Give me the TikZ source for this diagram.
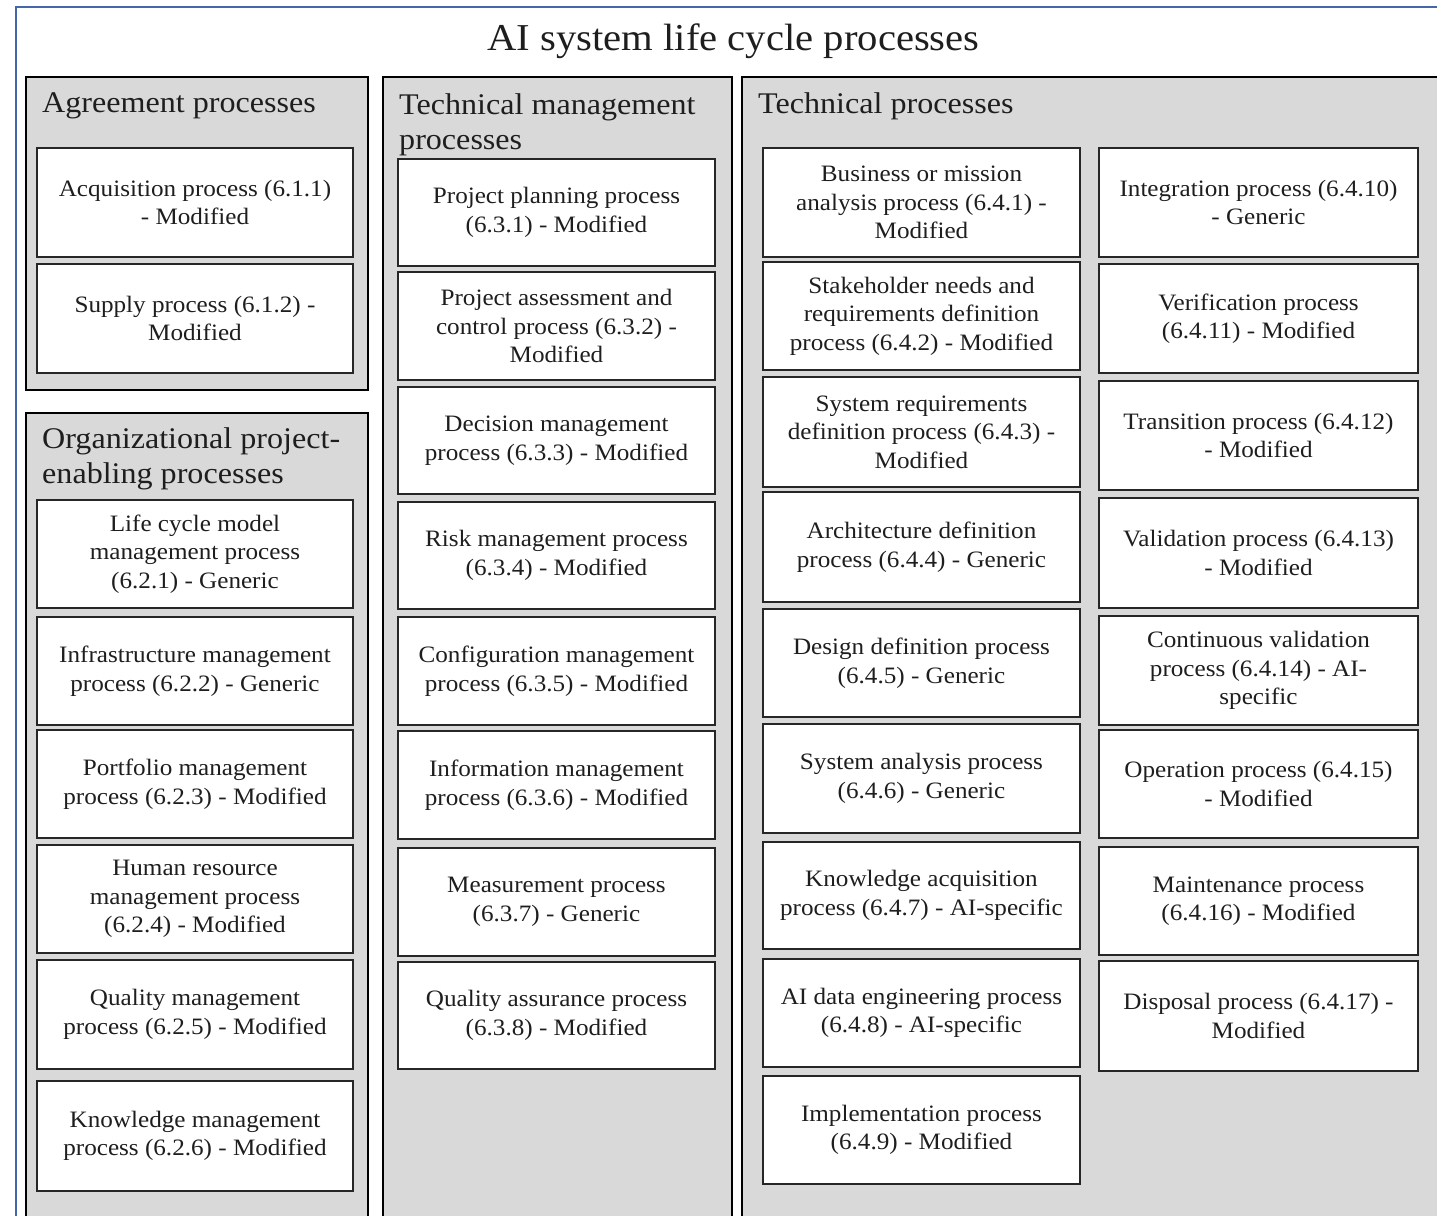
\documentclass[tikz,border=0pt]{standalone}
\usepackage{fontspec}
\setmainfont[FakeStretch=1.07]{Liberation Serif}
\definecolor{panelgray}{HTML}{D9D9D9}
\definecolor{frameblue}{HTML}{4467AC}
\definecolor{inkc}{HTML}{1E1E1E}
\begin{document}
\begin{tikzpicture}[x=1pt,y=-1pt,
  panel/.style={draw=black, line width=2pt, fill=panelgray, anchor=north west, inner sep=0pt},
  pbox/.style={draw=black!85, line width=2pt, fill=white, align=center, inner sep=0pt,
    font=\fontsize{23.5}{28.5}\selectfont, text=inkc},
  colA/.style={pbox, minimum width=316pt},
  colB/.style={pbox, minimum width=317pt},
  colC/.style={pbox, minimum width=317pt},
  colD/.style={pbox, minimum width=319pt},
  bh/.style={minimum height=#1pt},
  hdr/.style={anchor=base west, inner sep=0pt, align=left,
    font=\fontsize{30}{35}\selectfont, text=inkc},
]
\clip (0,0) rectangle (1437,1215);
\fill[white] (0,0) rectangle (1437,1215);
% outer frame
\draw[frameblue, line width=2.8pt] (16,1240) -- (16,7) -- (1460,7);
\node[anchor=base, inner sep=0pt, font=\fontsize{38}{44}\selectfont, text=inkc] (title) at (733.5,51) {AI system life cycle processes};

% panels
\node[panel, minimum width=342pt, minimum height=313pt] (agree) at (25,76) {};
\node[panel, minimum width=342pt, minimum height=828pt] (org) at (25,412) {};
\node[panel, minimum width=349pt, minimum height=1164pt] (tm) at (382,76) {};
\node[panel, minimum width=720pt, minimum height=1164pt] (tech) at (741,76) {};

% headers (base = baseline of last line)
\node[hdr] (agreeH) at (42,112) {Agreement processes};
\node[hdr] (orgH) at (42,483) {Organizational project-\\enabling processes};
\node[hdr] (tmH) at (399,149) {Technical management\\processes};
\node[hdr] (techH) at (758,113) {Technical processes};

% Agreement
\node[colA, bh=109] (acq) at (195,202.5) {Acquisition process (6.1.1)\\- Modified};
\node[colA, bh=109] (sup) at (195,318.5) {Supply process (6.1.2) -\\Modified};
% Organizational
\node[colA, bh=108] (lcm) at (195,554) {Life cycle model\\management process\\(6.2.1) - Generic};
\node[colA, bh=108] (inf) at (195,671) {Infrastructure management\\process (6.2.2) - Generic};
\node[colA, bh=108] (pfm) at (195,784) {Portfolio management\\process (6.2.3) - Modified};
\node[colA, bh=108] (hrm) at (195,899) {Human resource\\management process\\(6.2.4) - Modified};
\node[colA, bh=109] (qm) at (195,1014.5) {Quality management\\process (6.2.5) - Modified};
\node[colA, bh=110] (km) at (195,1136) {Knowledge management\\process (6.2.6) - Modified};
% Technical management
\node[colB, bh=107] (ppl) at (556.5,212.5) {Project planning process\\(6.3.1) - Modified};
\node[colB, bh=108] (pac) at (556.5,326) {Project assessment and\\control process (6.3.2) -\\Modified};
\node[colB, bh=107] (dm) at (556.5,440.5) {Decision management\\process (6.3.3) - Modified};
\node[colB, bh=107] (rm) at (556.5,555.5) {Risk management process\\(6.3.4) - Modified};
\node[colB, bh=108] (cm) at (556.5,671) {Configuration management\\process (6.3.5) - Modified};
\node[colB, bh=108] (im) at (556.5,785) {Information management\\process (6.3.6) - Modified};
\node[colB, bh=108] (mp) at (556.5,902) {Measurement process\\(6.3.7) - Generic};
\node[colB, bh=107] (qa) at (556.5,1015.5) {Quality assurance process\\(6.3.8) - Modified};
% Technical left
\node[colC, bh=109] (bma) at (921.5,202.5) {Business or mission\\analysis process (6.4.1) -\\Modified};
\node[colC, bh=108] (snr) at (921.5,316) {Stakeholder needs and\\requirements definition\\process (6.4.2) - Modified};
\node[colC, bh=110] (sr) at (921.5,432) {System requirements\\definition process (6.4.3) -\\Modified};
\node[colC, bh=110] (ad) at (921.5,547) {Architecture definition\\process (6.4.4) - Generic};
\node[colC, bh=108] (dd) at (921.5,663) {Design definition process\\(6.4.5) - Generic};
\node[colC, bh=109] (sa) at (921.5,778.5) {System analysis process\\(6.4.6) - Generic};
\node[colC, bh=107] (ka) at (921.5,895.5) {Knowledge acquisition\\process (6.4.7) - AI-specific};
\node[colC, bh=108] (ade) at (921.5,1013) {AI data engineering process\\(6.4.8) - AI-specific};
\node[colC, bh=108] (imp) at (921.5,1130) {Implementation process\\(6.4.9) - Modified};
% Technical right
\node[colD, bh=109] (int) at (1258.5,202.5) {Integration process (6.4.10)\\- Generic};
\node[colD, bh=109] (ver) at (1258.5,318.5) {Verification process\\(6.4.11) - Modified};
\node[colD, bh=109] (tra) at (1258.5,435.5) {Transition process (6.4.12)\\- Modified};
\node[colD, bh=110] (val) at (1258.5,553) {Validation process (6.4.13)\\- Modified};
\node[colD, bh=109] (cv) at (1258.5,670.5) {Continuous validation\\process (6.4.14) - AI-\\specific};
\node[colD, bh=108] (op) at (1258.5,784) {Operation process (6.4.15)\\- Modified};
\node[colD, bh=108] (mt) at (1258.5,901) {Maintenance process\\(6.4.16) - Modified};
\node[colD, bh=110] (dis) at (1258.5,1016) {Disposal process (6.4.17) -\\Modified};
\end{tikzpicture}
\end{document}
